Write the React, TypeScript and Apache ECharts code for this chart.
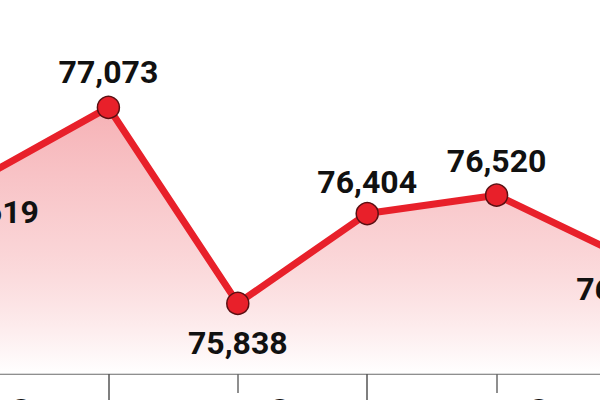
import React, { useEffect, useRef } from "react";
import * as echarts from "echarts";

const categories = ["P1", "P2", "P3", "P4", "P5", "P6"];
const values = [76619, 77073, 75838, 76404, 76520, 76128];
const labelSides = ["bottom", "top", "bottom", "top", "top", "bottom"];
const labelDistances = [5, 8, 12, 4, 6, 4];
const labelShiftX = [10, 0, 0, 0, 0, 0];
const periodLabels = ["Sept", "", "Sept", "", "Sept"];

export default function App() {
  const ref = useRef<HTMLDivElement>(null);
  useEffect(() => {
    if (!ref.current) return;
    const chart = echarts.init(ref.current, undefined, { renderer: "svg" });
    const font = "Roboto, 'Noto Sans', sans-serif";
    chart.setOption({
      animation: false,
      backgroundColor: "#ffffff",
      grid: {
        left: -21,
        right: -26,
        top: 0,
        bottom: 26,
        containLabel: false,
        outerBoundsMode: "none",
      },
      xAxis: [
        {
          type: "category",
          data: categories,
          boundaryGap: false,
          position: "bottom",
          axisLine: { show: true, lineStyle: { color: "#6a6a6a", width: 1.5 } },
          axisTick: {
            show: true,
            length: 19,
            interval: (i: number) => i === 2 || i === 4,
            lineStyle: { color: "#6a6a6a", width: 1.5 },
          },
          axisLabel: { show: false },
          splitLine: { show: false },
        },
        {
          type: "category",
          data: categories,
          boundaryGap: false,
          position: "bottom",
          axisLine: { show: false },
          axisTick: {
            show: true,
            length: 30,
            interval: (i: number) => i === 1 || i === 3,
            lineStyle: { color: "#555555", width: 1.5 },
          },
          axisLabel: { show: false },
          splitLine: { show: false },
        },
        {
          type: "category",
          data: periodLabels,
          boundaryGap: true,
          position: "bottom",
          axisLine: { show: false },
          axisTick: { show: false },
          axisLabel: {
            show: true,
            interval: 0,
            margin: 20,
            fontFamily: font,
            fontWeight: "bold",
            fontSize: 32,
            color: "#111111",
          },
          splitLine: { show: false },
        },
      ],
      yAxis: {
        type: "value",
        min: 75393,
        max: 77750,
        show: false,
        splitLine: { show: false },
      },
      series: [
        {
          type: "line",
          xAxisIndex: 0,
          data: values.map((v, i) => ({
            value: v,
            label: {
              position: labelSides[i],
              distance: labelDistances[i],
              offset: [labelShiftX[i], 0],
            },
          })),
          symbol: "circle",
          symbolSize: 22,
          showAllSymbol: true,
          lineStyle: { color: "#e8202a", width: 7 },
          itemStyle: { color: "#e8202a", borderColor: "#5a0f12", borderWidth: 1.5 },
          areaStyle: {
            color: new echarts.graphic.LinearGradient(0, 0, 0, 1, [
              { offset: 0, color: "rgba(240,125,132,0.85)" },
              { offset: 0.55, color: "rgba(246,175,179,0.75)" },
              { offset: 1, color: "rgba(255,255,255,0.95)" },
            ]),
          },
          label: {
            show: true,
            formatter: (p: any) => Number(p.value).toLocaleString("en-US"),
            fontFamily: font,
            fontWeight: "bold",
            fontSize: 32,
            color: "#111111",
          },
          z: 3,
        },
      ],
    });
    return () => chart.dispose();
  }, []);
  return <div ref={ref} style={{ width: 600, height: 400, position: "absolute", left: 0, top: 0 }} />;
}
